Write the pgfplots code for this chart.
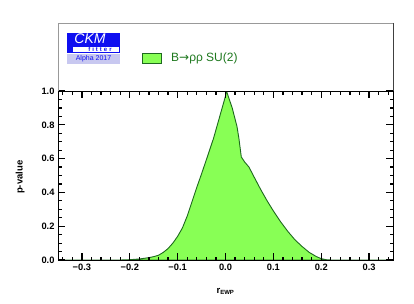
\documentclass[border=0pt]{standalone}
\usepackage{fontspec}
\setmainfont{Liberation Sans}
\newfontfamily\dejavu{DejaVu Sans}
\usepackage{pgfplots}
\pgfplotsset{compat=1.18}
\definecolor{fillgreen}{RGB}{136,255,85}
\definecolor{edgegreen}{RGB}{30,105,30}
\definecolor{txtgreen}{RGB}{30,120,30}
\definecolor{ckmblue}{RGB}{15,15,240}
\definecolor{ckmlav}{RGB}{200,200,240}
\begin{document}
\begin{tikzpicture}
\begin{axis}[
  scale only axis, width=335pt, height=169pt,
  xmin=-0.35, xmax=0.35, ymin=0, ymax=1,
  xtick={-0.3,-0.2,-0.1,0,0.1,0.2,0.3},
  xticklabels={−0.3,−0.2,−0.1,0.0,0.1,0.2,0.3},
  ytick={0,0.2,0.4,0.6,0.8,1.0},
  yticklabels={0.0,0.2,0.4,0.6,0.8,1.0},
  minor xtick={-0.34,-0.32,...,0.35},
  minor ytick={0,0.05,...,1.01},
  tick align=inside, xtick pos=both, ytick pos=both,
  major tick length=7pt, minor tick length=3.5pt,
  every tick/.style={black, line width=1.2pt},
  axis line style={black, line width=0.8pt},
  tick label style={font=\fontsize{9.3}{10}\selectfont\bfseries},
  xlabel={\bfseries\fontsize{9.5}{10}\selectfont r\textsubscript{\fontsize{6}{6}\selectfont EWP}},
  ylabel={\bfseries\fontsize{9.5}{10}\selectfont p-value},
  xlabel style={at={(axis description cs:0.5,-0.185)}, anchor=center},
  ylabel style={at={(axis description cs:-0.113,0.49)}, anchor=center},
  axis on top,
]
\addplot[fill=fillgreen, draw=edgegreen, line width=0.9pt] coordinates {
(-0.35,0) (-0.22,0) (-0.20,0.002) (-0.18,0.006) (-0.16,0.014) (-0.15,0.02)
(-0.14,0.028) (-0.13,0.045) (-0.12,0.068) (-0.11,0.10) (-0.10,0.14)
(-0.09,0.19) (-0.08,0.26) (-0.07,0.345) (-0.06,0.43)
(-0.05,0.51) (-0.038,0.61) (-0.025,0.72) (-0.017,0.80) (-0.008,0.89)
(0.0,0.97) (0.002,1.0) (0.008,0.95) (0.014,0.90) (0.024,0.79) (0.028,0.72)
(0.033,0.61) (0.04,0.58) (0.049,0.55) (0.06,0.49) (0.073,0.42) (0.087,0.35)
(0.101,0.286) (0.115,0.227) (0.13,0.17) (0.145,0.12) (0.16,0.08) (0.175,0.045)
(0.19,0.02) (0.20,0.008) (0.21,0.002) (0.22,0) (0.35,0)
} \closedcycle;
\end{axis}
\begin{scope}[shift={(current axis.south west)}, x=1pt, y=1pt]
  \draw[black!40, line width=0.8pt] (0,169) -- (0,237) -- (335,237);
  \draw[black!75, line width=0.8pt] (335,237) -- (335,169);
  % logo
  \fill[ckmblue] (9,207) rectangle (62,227);
  \fill[white] (15,207.8) rectangle (61.2,212.8);
  \node[text=white, font=\fontsize{14}{14}\selectfont\itshape, anchor=center] at (32,221) {CKM};
  \node[text=ckmblue, font=\fontsize{6}{6}\selectfont\bfseries, anchor=center] at (42,210.3) {f\,\,i\,\,t\,\,t\,\,e\,\,r};
  \fill[ckmlav] (9,196) rectangle (62,206.5);
  \node[text=ckmblue, font=\fontsize{7}{7}\selectfont, anchor=center] at (35.5,201.2) {Alpha 2017};
  % legend
  \draw[fill=fillgreen, draw=edgegreen, line width=0.9pt] (84,197) rectangle (103,207);
  \node[text=txtgreen, font=\fontsize{12}{12}\selectfont, anchor=west, inner sep=0pt] at (113,202) {B{\dejavu →}ρρ SU(2)};
  \pgfresetboundingbox
  \path (-58,-43) rectangle (356,260);
\end{scope}
\end{tikzpicture}
\end{document}
